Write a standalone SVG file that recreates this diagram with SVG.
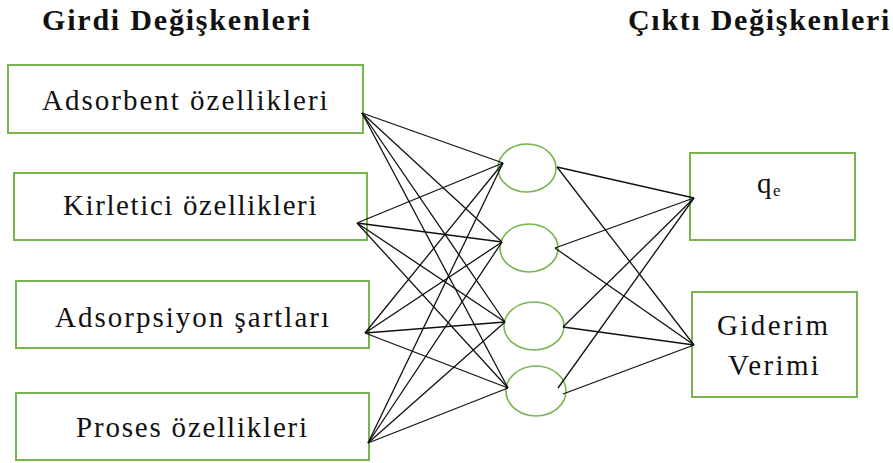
<svg xmlns="http://www.w3.org/2000/svg" width="893" height="463" viewBox="0 0 893 463">
<rect width="893" height="463" fill="#fff"/>
<g font-family="Liberation Serif" fill="#111">
<text x="42" y="30" font-size="30" font-weight="bold" letter-spacing="1.8">Girdi Değişkenleri</text>
<text x="628" y="30" font-size="30" font-weight="bold" letter-spacing="1.7">Çıktı Değişkenleri</text>
</g>
<g font-family="Liberation Serif" font-size="29" fill="#111">
<g id="in1"><rect x="8" y="65" width="355" height="68" fill="#fff" stroke="#78b450" stroke-width="2"/><text x="42" y="110" letter-spacing="2">Adsorbent özellikleri</text></g>
<g id="in2"><rect x="14" y="173" width="353" height="67" fill="#fff" stroke="#78b450" stroke-width="2"/><text x="63" y="215" letter-spacing="1.6">Kirletici özellikleri</text></g>
<g id="in3"><rect x="16" y="281" width="353" height="67" fill="#fff" stroke="#78b450" stroke-width="2"/><text x="55" y="327" letter-spacing="2">Adsorpsiyon şartları</text></g>
<g id="in4"><rect x="16" y="393" width="353" height="67" fill="#fff" stroke="#78b450" stroke-width="2"/><text x="76" y="437" letter-spacing="1.8">Proses özellikleri</text></g>
<g id="out1"><rect x="690" y="153" width="165" height="87" fill="#fff" stroke="#78b450" stroke-width="2"/><text x="757" y="193">q</text><text x="773" y="196" font-size="17">e</text></g>
<g id="out2"><rect x="692" y="292" width="165" height="105" fill="#fff" stroke="#78b450" stroke-width="2"/><text x="717" y="335" letter-spacing="2.4">Giderim</text><text x="728" y="375" letter-spacing="2.4">Verimi</text></g>
</g>
<g fill="none" stroke="#78b450" stroke-width="1.6">
<g id="h1"><ellipse cx="527" cy="168" rx="29" ry="24"/></g>
<g id="h2"><ellipse cx="529" cy="248" rx="29" ry="24"/></g>
<g id="h3"><ellipse cx="534" cy="326" rx="30" ry="24"/></g>
<g id="h4"><ellipse cx="536" cy="391" rx="30" ry="25"/></g>
</g>
<g id="connectors" stroke="#111" stroke-width="1.3">
<line x1="362" y1="113" x2="503" y2="163"/>
<line x1="362" y1="113" x2="502" y2="242"/>
<line x1="362" y1="113" x2="505" y2="322"/>
<line x1="362" y1="113" x2="508" y2="388"/>
<line x1="357" y1="223" x2="503" y2="163"/>
<line x1="357" y1="223" x2="502" y2="242"/>
<line x1="357" y1="223" x2="505" y2="322"/>
<line x1="357" y1="223" x2="508" y2="388"/>
<line x1="365" y1="333" x2="503" y2="163"/>
<line x1="365" y1="333" x2="502" y2="242"/>
<line x1="365" y1="333" x2="505" y2="322"/>
<line x1="365" y1="333" x2="508" y2="388"/>
<line x1="368" y1="443" x2="503" y2="163"/>
<line x1="368" y1="443" x2="502" y2="242"/>
<line x1="368" y1="443" x2="505" y2="322"/>
<line x1="368" y1="443" x2="508" y2="388"/>
<line x1="557" y1="167" x2="694" y2="198"/>
<line x1="557" y1="167" x2="694" y2="345"/>
<line x1="555" y1="248" x2="694" y2="198"/>
<line x1="555" y1="248" x2="694" y2="345"/>
<line x1="563" y1="327" x2="694" y2="198"/>
<line x1="563" y1="327" x2="694" y2="345"/>
<line x1="558" y1="388" x2="694" y2="198"/>
<line x1="563" y1="394" x2="694" y2="345"/>
</g>
</svg>
